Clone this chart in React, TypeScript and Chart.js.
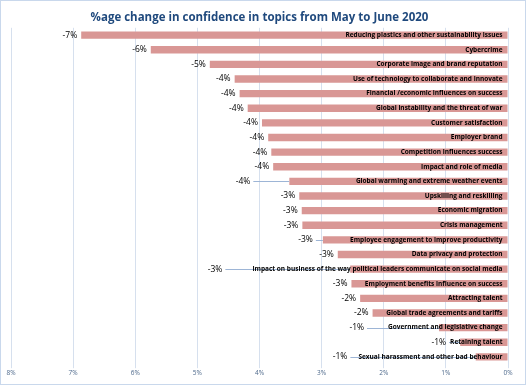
import React, { useEffect, useRef } from "react";
import { Chart, registerables } from "chart.js";

Chart.register(...registerables);

const TITLE = "%age change in confidence in topics from May to June 2020";

const CATEGORIES = [
  "Reducing plastics and other sustainability issues",
  "Cybercrime",
  "Corporate image and brand reputation",
  "Use of technology to collaborate and innovate",
  "Financial /economic influences on success",
  "Global instability and the threat of war",
  "Customer satisfaction",
  "Employer brand",
  "Competition influences success",
  "Impact and role of media",
  "Global warming and extreme weather events",
  "Upskilling and reskilling",
  "Economic migration",
  "Crisis management",
  "Employee engagement to improve productivity",
  "Data privacy and protection",
  "Impact on business of the way political leaders communicate on social media",
  "Employment benefits influence on success",
  "Attracting talent",
  "Global trade agreements and tariffs",
  "Government and legislative change",
  "Retaining talent",
  "Sexual harassment and other bad behaviour",
];

const CHANGE = [
  -6.87, -5.75, -4.8, -4.4, -4.32, -4.19, -3.96, -3.86, -3.81, -3.78, -3.52,
  -3.36, -3.32, -3.31, -2.98, -2.74, -2.54, -2.52, -2.38, -2.18, -1.11, -0.77,
  -0.52,
];

const X_TICKS = [-8, -7, -6, -5, -4, -3, -2, -1, 0];

// extra leftward nudge (px) of some value labels, drawn with a leader line
const LABEL_NUDGE: Record<number, number> = {
  10: 35,
  14: 6,
  16: 26,
  20: 20,
  22: 7,
};

const FONT = "'Open Sans', 'Liberation Sans', sans-serif";

const fmt = (v: number) => (v < 0 ? "-" : "") + Math.round(Math.abs(v)) + "%";

const labelPlugin = {
  id: "barLabels",
  afterDatasetsDraw(chart: any) {
    const ctx = chart.ctx;
    const meta = chart.getDatasetMeta(0);
    ctx.save();
    meta.data.forEach((el: any, i: number) => {
      const barLeft = el.x;
      const base = el.base;
      const y = el.y;
      const textRight = base - 5;
      ctx.font = `bold 6.5px ${FONT}`;
      const tw = ctx.measureText(CATEGORIES[i]).width;
      const textLeft = textRight - tw;
      const nudge = LABEL_NUDGE[i] || 0;
      const labelRight = Math.min(barLeft, textLeft) - 4 - nudge;
      const needLine = nudge > 0 || textLeft < barLeft;
      if (needLine) {
        ctx.strokeStyle = "#9DB5D6";
        ctx.lineWidth = 1;
        ctx.beginPath();
        ctx.moveTo(labelRight + 3, Math.round(y) + 0.5);
        ctx.lineTo(barLeft, Math.round(y) + 0.5);
        ctx.stroke();
      }
      ctx.fillStyle = "#000000";
      ctx.textAlign = "right";
      ctx.textBaseline = "middle";
      ctx.font = `bold 6.5px ${FONT}`;
      ctx.fillText(CATEGORIES[i], textRight, y);
      ctx.font = `8.5px ${FONT}`;
      ctx.fillText(fmt(CHANGE[i]), labelRight, y);
    });
    ctx.restore();
  },
};

export default function App() {
  const ref = useRef<HTMLCanvasElement>(null);
  useEffect(() => {
    if (!ref.current) return;
    const chart = new Chart(ref.current, {
      type: "bar",
      data: {
        labels: CATEGORIES,
        datasets: [
          {
            data: CHANGE,
            backgroundColor: "#D99795",
            borderWidth: 0,
            barPercentage: 0.5,
            categoryPercentage: 1,
          },
        ],
      },
      options: {
        indexAxis: "y",
        animation: false,
        responsive: false,
        maintainAspectRatio: false,
        layout: { padding: { left: 10, right: 17, top: 0, bottom: 6 } },
        plugins: {
          legend: { display: false },
          tooltip: { enabled: false },
          title: {
            display: true,
            text: TITLE,
            color: "#1F497D",
            font: { family: FONT, size: 11.5, weight: "bold" },
            padding: { top: 10, bottom: 3 },
          },
        },
        scales: {
          x: {
            type: "linear",
            min: -8,
            max: 0,
            afterBuildTicks: (axis: any) => {
              axis.ticks = X_TICKS.map((v) => ({ value: v }));
            },
            ticks: {
              callback: (v: any) => Math.abs(Number(v)) + "%",
              color: "#4F6A8C",
              font: { family: FONT, size: 6.5 },
              padding: 1,
              maxRotation: 0,
            },
            grid: {
              color: "#D6E0EE",
              drawTicks: true,
              tickLength: 4,
            },
            border: { display: false },
          },
          y: {
            display: false,
          },
        },
      },
      plugins: [labelPlugin],
    });
    return () => chart.destroy();
  }, []);
  return (
    <div
      style={{
        position: "fixed",
        left: 0,
        top: 0,
        width: 526,
        height: 385,
        background: "#fff",
        boxSizing: "border-box",
        border: "1px solid #C9D8EC",
      }}
    >
      <canvas ref={ref} width={524} height={383} style={{ display: "block" }} />
    </div>
  );
}
